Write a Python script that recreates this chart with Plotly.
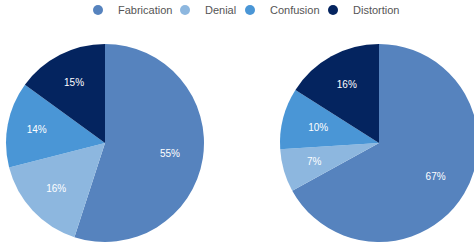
import plotly.graph_objects as go

categories = ["Fabrication", "Denial", "Confusion", "Distortion"]
left_values = [55, 16, 14, 15]
right_values = [67, 7, 10, 16]
colors = ["#5683BE", "#8DB7DF", "#4A96D6", "#04245F"]

fig = go.Figure()

W, H = 480, 248
ml, mr, mt, mb = 6, 2, 44, 6
pw = W - ml - mr
ph = H - mt - mb

left_dom = [0, ph / pw]
right_dom = [1 - ph / pw, 1]

PCT = "%{percent}"
# which slices get their label from the full-size ring and which from a smaller ring
pies = [
    (left_values, left_dom, [PCT, PCT, PCT, PCT], None),
    (right_values, right_dom, [PCT, "", "", PCT], ["", PCT, PCT, ""]),
]

def shrink(dom, s):
    c = (dom[0] + dom[1]) / 2
    half = (dom[1] - dom[0]) / 2 * s
    return [c - half, c + half], [0.5 - s / 2, 0.5 + s / 2]

for vals, dom, tt_main, tt_small in pies:
    # solid base pie
    fig.add_trace(go.Pie(
        labels=categories, values=vals, sort=False, direction="clockwise",
        rotation=0, domain=dict(x=dom, y=[0, 1]),
        marker=dict(colors=colors, line=dict(width=0)),
        textinfo="none", hoverinfo="label+percent", showlegend=False,
    ))
    # transparent ring carrying the labels of the larger slices
    fig.add_trace(go.Pie(
        labels=categories, values=vals, sort=False, direction="clockwise",
        rotation=0, domain=dict(x=dom, y=[0, 1]), hole=0.33,
        marker=dict(colors=["rgba(0,0,0,0)"] * 4, line=dict(width=0)),
        texttemplate=tt_main, textposition="inside",
        insidetextorientation="horizontal",
        textfont=dict(color="white", size=10, family="Liberation Sans, Arial"),
        hoverinfo="skip", showlegend=False,
    ))
    if tt_small:
        dx, dy = shrink(dom, 0.83)
        fig.add_trace(go.Pie(
            labels=categories, values=vals, sort=False, direction="clockwise",
            rotation=0, domain=dict(x=dx, y=dy),
            marker=dict(colors=["rgba(0,0,0,0)"] * 4, line=dict(width=0)),
            texttemplate=tt_small, textposition="inside",
            insidetextorientation="horizontal",
            textfont=dict(color="white", size=10, family="Liberation Sans, Arial"),
            hoverinfo="skip", showlegend=False,
        ))

legend_names = ["legend", "legend2", "legend3", "legend4"]
for name, c, lg in zip(categories, colors, legend_names):
    fig.add_trace(go.Scatter(
        x=[None], y=[None], mode="markers", name=name, legend=lg,
        marker=dict(size=10, color=c, symbol="circle"),
    ))

legend_x = [78, 165, 230, 313]
common = dict(orientation="h", xanchor="left", xref="container",
              y=1 - 10 / H, yanchor="middle", yref="container",
              font=dict(size=11, color="#555555"), itemwidth=30,
              bgcolor="rgba(0,0,0,0)")
legends = {}
for lg, lx in zip(legend_names, legend_x):
    legends[lg] = dict(x=lx / W, **common)

fig.update_layout(
    width=W, height=H,
    margin=dict(l=ml, r=mr, t=mt, b=mb, autoexpand=False),
    paper_bgcolor="white", plot_bgcolor="white",
    xaxis=dict(visible=False, range=[0, 1]), yaxis=dict(visible=False, range=[0, 1]),
    font=dict(family="Liberation Sans, Arial", color="#555555", size=11),
    **legends,
)

fig.write_html(
    "out.html",
    config={"displayModeBar": False},
    post_script="document.body.style.margin='0';document.body.style.overflow='hidden';document.documentElement.style.overflow='hidden';",
)
